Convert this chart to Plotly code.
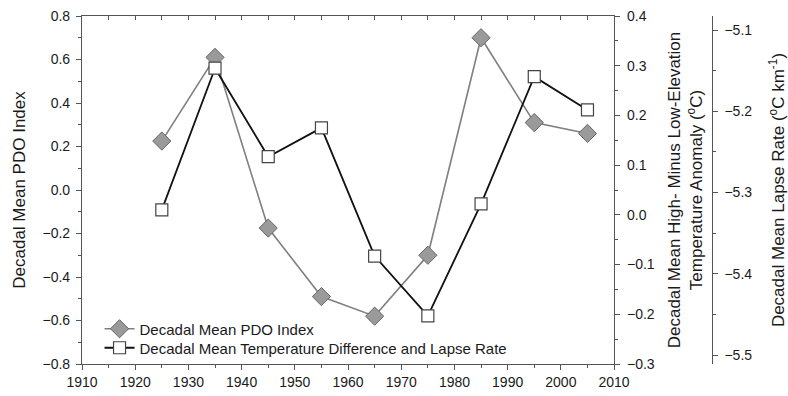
import plotly.graph_objects as go

decades = [1925, 1935, 1945, 1955, 1965, 1975, 1985, 1995, 2005]
pdo_index = [0.225, 0.61, -0.175, -0.49, -0.58, -0.30, 0.70, 0.31, 0.26]
temp_diff = [0.010, 0.295, 0.117, 0.175, -0.083, -0.203, 0.022, 0.278, 0.211]

x_ticks = [1910, 1920, 1930, 1940, 1950, 1960, 1970, 1980, 1990, 2000, 2010]
pdo_ticks = [-0.8, -0.6, -0.4, -0.2, 0.0, 0.2, 0.4, 0.6, 0.8]
temp_ticks = [-0.3, -0.2, -0.1, 0.0, 0.1, 0.2, 0.3, 0.4]
lapse_ticks = [-5.5, -5.4, -5.3, -5.2, -5.1]

FONT = "Liberation Sans, Arial, sans-serif"
TXT = "#1a1a1a"
AX = "#555555"

W, H = 788, 396
L, T, B = 82, 16, 32
plot_right = 628
dom_x = (plot_right - L) / (W - L)
lapse_pos = (728 - L) / (W - L)
plot_h = H - T - B

fig = go.Figure()

fig.add_trace(go.Scatter(
    x=decades, y=pdo_index, name="Decadal Mean PDO Index",
    mode="lines+markers",
    line=dict(color="#7f7f7f", width=1.6),
    marker=dict(symbol="diamond", size=14, color="#9a9a9a",
                line=dict(color="#666666", width=1)),
    xaxis="x", yaxis="y", legend="legend",
))
fig.add_trace(go.Scatter(
    x=decades, y=temp_diff,
    name="Decadal Mean Temperature Difference and Lapse Rate",
    mode="lines+markers",
    line=dict(color="#111111", width=1.8),
    marker=dict(symbol="square", size=12, color="white",
                line=dict(color="#444444", width=1.2)),
    xaxis="x", yaxis="y2", legend="legend2",
))
# helper traces so the extra axes are drawn
fig.add_trace(go.Scatter(x=[None], y=[None], yaxis="y3", xaxis="x",
                         showlegend=False, hoverinfo="skip"))
fig.add_trace(go.Scatter(x=[None], y=[None], yaxis="y", xaxis="x2",
                         showlegend=False, hoverinfo="skip"))

common = dict(showgrid=False, zeroline=False, showline=True, linecolor=AX,
              linewidth=1.2, tickcolor=AX, tickfont=dict(family=FONT, size=14, color=TXT))

leg_common = dict(xanchor="left", yanchor="middle", bgcolor="rgba(0,0,0,0)",
                  font=dict(family=FONT, size=15, color=TXT), itemwidth=30)
leg_x = (100 - L) / (W - L)

fig.update_layout(
    width=W, height=H,
    margin=dict(l=L, r=0, t=T, b=B),
    paper_bgcolor="white", plot_bgcolor="white",
    font=dict(family=FONT, color=TXT),
    showlegend=True,
    legend=dict(x=leg_x, y=(H - B - 329) / plot_h, **leg_common),
    legend2=dict(x=leg_x, y=(H - B - 348) / plot_h, **leg_common),
    xaxis=dict(domain=[0, dom_x], range=[1910, 2010], tickvals=x_ticks,
               ticks="outside", ticklen=5,
               minor=dict(ticks="outside", dtick=5, tick0=1910, ticklen=3, tickcolor=AX),
               anchor="y", **common),
    xaxis2=dict(domain=[0, dom_x], range=[1910, 2010], overlaying="x", side="top",
                anchor="y", ticks="inside", ticklen=4, dtick=5, tick0=1910,
                showticklabels=False, showgrid=False, zeroline=False,
                showline=True, linecolor=AX, linewidth=1.2, tickcolor=AX),
    yaxis=dict(range=[-0.8, 0.8], tickvals=pdo_ticks, tickformat=".1f",
               ticks="outside", ticklen=5, ticklabelstandoff=3,
               minor=dict(ticks="outside", dtick=0.1, tick0=0, ticklen=3, tickcolor=AX),
               title=dict(text="Decadal Mean PDO Index", standoff=12,
                          font=dict(family=FONT, size=17, color=TXT)),
               anchor="x", **common),
    yaxis2=dict(range=[-0.3, 0.4], tickvals=temp_ticks, tickformat=".1f",
                overlaying="y", side="right", anchor="x",
                ticks="outside", ticklen=5, ticklabelstandoff=4,
                minor=dict(ticks="outside", dtick=0.05, tick0=0, ticklen=3, tickcolor=AX),
                title=dict(text="Decadal Mean High- Minus Low-Elevation<br>Temperature Anomaly (<sup>o</sup>C)",
                           standoff=14, font=dict(family=FONT, size=17, color=TXT)),
                **common),
    yaxis3=dict(range=[-5.5 - 9 / 812.5, -5.1 + 14 / 812.5], tickvals=lapse_ticks,
                tickformat=".1f", overlaying="y", side="right", anchor="free",
                position=lapse_pos, ticks="outside", ticklen=5, ticklabelstandoff=4,
                minor=dict(ticks="outside", dtick=0.05, tick0=0, ticklen=3, tickcolor=AX),
                title=dict(text="Decadal Mean Lapse Rate (<sup>o</sup>C km<sup>-1</sup>)",
                           standoff=24, font=dict(family=FONT, size=17, color=TXT)),
                **common),
)

fig.write_html("out.html")
